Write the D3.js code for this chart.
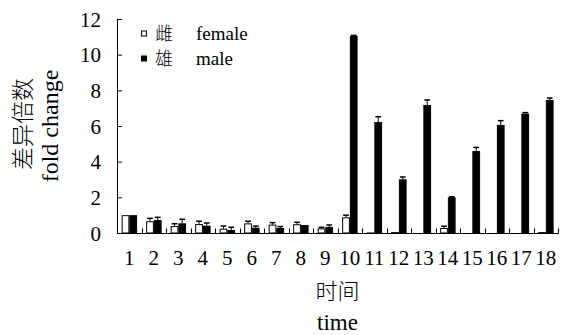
<!DOCTYPE html>
<html>
<head>
<meta charset="utf-8">
<script src="https://cdn.jsdelivr.net/npm/d3@7"></script>
<style>
  body { margin: 0; background: #fff; }
  svg text { fill: #000; }
  .lat { font-family: "Liberation Serif", "Times New Roman", serif; }
  .cjk { font-family: "Noto Sans CJK SC", sans-serif; font-weight: 300; }
</style>
</head>
<body>
<script>
// Data
var times = ["1","2","3","4","5","6","7","8","9","10","11","12","13","14","15","16","17","18"];
var female = [1.0, 0.66, 0.39, 0.50, 0.24, 0.54, 0.47, 0.49, 0.26, 0.88, 0.03, 0.05, 0.01, 0.28, 0.01, 0.02, 0.01, 0.05];
var femaleErr = [0, 0.16, 0.13, 0.16, 0.15, 0.12, 0.11, 0.11, 0.06, 0.12, 0, 0, 0, 0.10, 0, 0, 0, 0];
var male = [1.0, 0.73, 0.54, 0.41, 0.17, 0.30, 0.28, 0.45, 0.34, 11.05, 6.22, 3.01, 7.18, 2.0, 4.60, 6.06, 6.69, 7.46];
var maleErr = [0, 0.15, 0.23, 0.15, 0.15, 0.09, 0.08, 0, 0.11, 0.03, 0.30, 0.13, 0.28, 0.03, 0.20, 0.24, 0.06, 0.11];
var yTicks = [0, 2, 4, 6, 8, 10, 12];

var series = [
  {key: "female", cn: "雌", values: female, err: femaleErr, fill: "#fff"},
  {key: "male", cn: "雄", values: male, err: maleErr, fill: "#000"}
];

var W = 567, H = 335;
var margin = {top: 19, right: 9, bottom: 102, left: 117},
    width = W - margin.left - margin.right,
    height = H - margin.top - margin.bottom;

var svg = d3.select("body")
  .append("svg")
    .attr("width", W)
    .attr("height", H)
  .append("g")
    .attr("transform", "translate(" + margin.left + "," + margin.top + ")");

var x0 = d3.scaleBand()
  .domain(times)
  .range([0, width])
  .padding(0);

var x1 = d3.scaleBand()
  .domain(series.map(function(s) { return s.key; }))
  .range([x0.step() * 0.19, x0.step() * 0.82]);

var y = d3.scaleLinear()
  .domain([0, 12])
  .range([height, 0]);

// Bars
var groups = svg.append("g")
  .selectAll("g")
  .data(series)
  .enter()
  .append("g");

function rows(s) {
  return s.values.map(function(v, i) { return {s: s, v: v, e: s.err[i], t: times[i]}; });
}

groups.selectAll("rect")
  .data(rows)
  .enter()
  .append("rect")
    .attr("x", function(d) { return x0(d.t) + x1(d.s.key) + 0.5; })
    .attr("y", function(d) { return y(d.v) + 0.5; })
    .attr("width", x1.bandwidth() - 1)
    .attr("height", function(d) { return Math.max(0, y(0) - y(d.v) - 0.5); })
    .style("fill", function(d) { return d.s.fill; })
    .attr("stroke", "#000")
    .attr("stroke-width", 1);

// Error bars (upper only)
var errs = groups.selectAll("g.err")
  .data(function(s) { return rows(s).filter(function(d) { return d.e > 0; }); })
  .enter()
  .append("g")
    .attr("class", "err");

errs.append("line")
  .attr("x1", function(d) { return x0(d.t) + x1(d.s.key) + x1.bandwidth() / 2; })
  .attr("x2", function(d) { return x0(d.t) + x1(d.s.key) + x1.bandwidth() / 2; })
  .attr("y1", function(d) { return y(d.v); })
  .attr("y2", function(d) { return y(d.v + d.e); })
  .attr("stroke", "#000")
  .attr("stroke-width", 1);

errs.append("line")
  .attr("x1", function(d) { return x0(d.t) + x1(d.s.key) + 1; })
  .attr("x2", function(d) { return x0(d.t) + x1(d.s.key) + x1.bandwidth() - 1; })
  .attr("y1", function(d) { return y(d.v + d.e); })
  .attr("y2", function(d) { return y(d.v + d.e); })
  .attr("stroke", "#000")
  .attr("stroke-width", 1.5);

// Y axis (ticks pointing inward)
var yAxis = svg.append("g")
  .call(d3.axisRight(y).tickValues(yTicks).tickSize(5).tickFormat(d3.format("d")));
yAxis.attr("font-family", null).attr("font-size", null);
yAxis.select(".domain").attr("d", "M0.5," + y(12) + "V" + (height + 0.5));
yAxis.selectAll("text")
  .attr("class", "lat")
  .attr("x", -16)
  .attr("text-anchor", "end")
  .attr("dy", "0.34em")
  .style("font-size", "21px");

// X axis with ticks between groups pointing up
var xAxis = svg.append("g")
  .attr("transform", "translate(0," + height + ")");
xAxis.append("line")
  .attr("x1", 0).attr("x2", width + 0.5)
  .attr("y1", 0.5).attr("y2", 0.5)
  .attr("stroke", "#000");
xAxis.selectAll("line.tick")
  .data(times)
  .enter()
  .append("line")
    .attr("class", "tick")
    .attr("x1", function(d) { return Math.round(x0(d) + x0.step()) + 0.5; })
    .attr("x2", function(d) { return Math.round(x0(d) + x0.step()) + 0.5; })
    .attr("y1", 0.5)
    .attr("y2", -4.5)
    .attr("stroke", "#000");
xAxis.selectAll("text")
  .data(times)
  .enter()
  .append("text")
    .attr("class", "lat")
    .attr("x", function(d) { return x0(d) + x0.bandwidth() / 2; })
    .attr("y", 32)
    .attr("text-anchor", "middle")
    .style("font-size", "21px")
    .text(function(d) { return d; });

// X axis titles
svg.append("text")
  .attr("class", "cjk")
  .attr("x", 337.5 - margin.left)
  .attr("y", 299 - margin.top)
  .attr("text-anchor", "middle")
  .style("font-size", "22px")
  .text("时间");
svg.append("text")
  .attr("class", "lat")
  .attr("x", 337.5 - margin.left)
  .attr("y", 330 - margin.top)
  .attr("text-anchor", "middle")
  .style("font-size", "23px")
  .text("time");

// Y axis titles
svg.append("text")
  .attr("class", "cjk")
  .attr("text-anchor", "middle")
  .attr("transform", "translate(" + (31 - margin.left) + "," + (124 - margin.top) + ") rotate(-90)")
  .style("font-size", "23px")
  .text("差异倍数");
svg.append("text")
  .attr("class", "lat")
  .attr("text-anchor", "middle")
  .attr("transform", "translate(" + (58 - margin.left) + "," + (126 - margin.top) + ") rotate(-90)")
  .style("font-size", "24px")
  .text("fold change");

// Legend
var legend = svg.append("g")
  .attr("transform", "translate(" + (141 - margin.left) + "," + (34 - margin.top) + ")");
var items = legend.selectAll("g")
  .data(series)
  .enter()
  .append("g")
    .attr("transform", function(d, i) { return "translate(0," + (i * 25) + ")"; });
items.append("rect")
  .attr("x", 0.5).attr("y", -3)
  .attr("width", 5).attr("height", 5)
  .style("fill", function(d) { return d.fill; })
  .attr("stroke", "#000");
items.append("text")
  .attr("class", "cjk")
  .attr("x", 14)
  .attr("y", 6)
  .style("font-size", "18px")
  .text(function(d) { return d.cn; });
items.append("text")
  .attr("class", "lat")
  .attr("x", 55)
  .attr("y", 6)
  .style("font-size", "19px")
  .text(function(d) { return d.key; });
</script>
</body>
</html>
